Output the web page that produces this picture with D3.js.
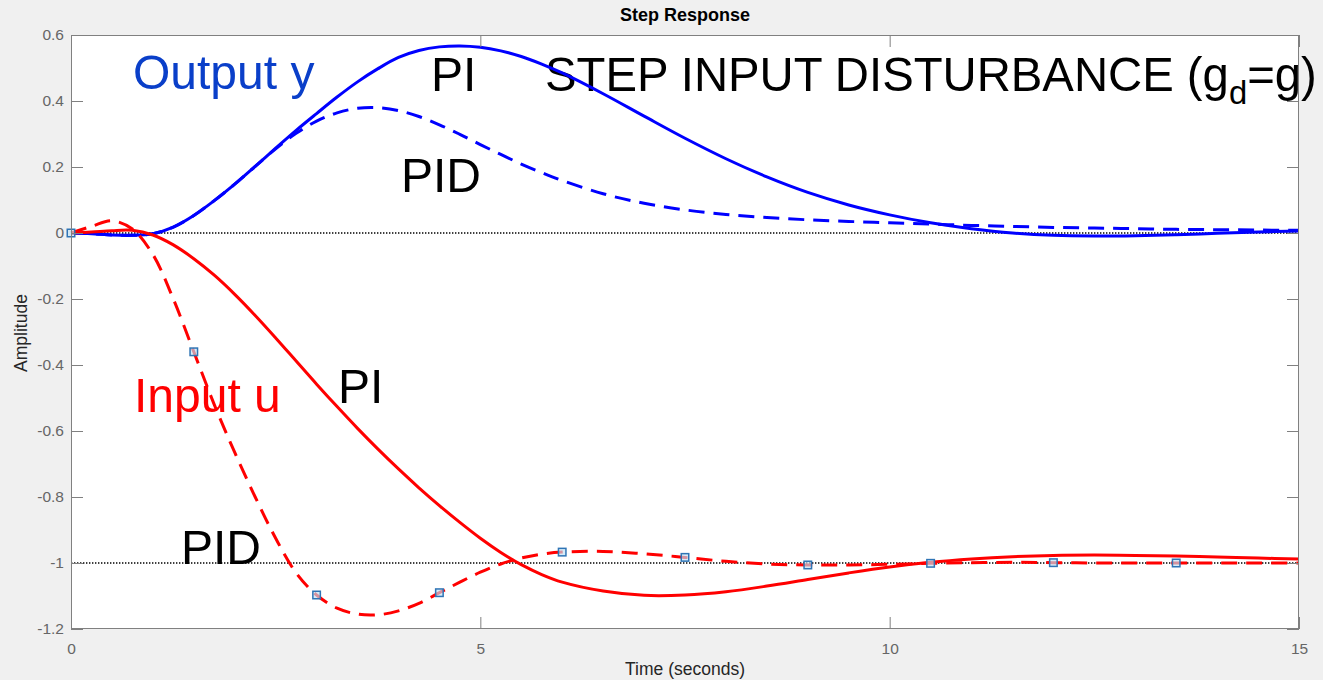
<!DOCTYPE html>
<html>
<head>
<meta charset="utf-8">
<script src="https://cdn.jsdelivr.net/npm/d3@7"></script>
<style>
  html, body { margin: 0; padding: 0; background: #f0f0f0; }
  svg { display: block; }
  text { font-family: "Liberation Sans", Arial, Helvetica, sans-serif; }
</style>
</head>
<body>
<svg id="chart" width="1323" height="680"></svg>
<script>
// Sample times (seconds) shared by all four responses
const timeS = [0, 0.25, 0.5, 0.75, 1, 1.25, 1.5, 1.75, 2, 2.25, 2.5, 2.75, 3, 3.25, 3.5, 3.75,
  4, 4.25, 4.5, 4.75, 5, 5.25, 5.5, 5.75, 6, 6.5, 7, 7.5, 8, 8.5, 9, 9.5, 10, 10.5, 11, 11.5,
  12, 12.5, 13, 13.5, 14, 14.5, 15];

// Output y, PI controller (solid blue)
const outputPI = [0, -0.002, -0.006, -0.007, -0.002, 0.018, 0.053, 0.098, 0.148, 0.202, 0.257, 0.311,
  0.362, 0.412, 0.458, 0.498, 0.532, 0.553, 0.564, 0.567, 0.563, 0.552, 0.535, 0.512, 0.485, 0.422,
  0.354, 0.287, 0.225, 0.17, 0.123, 0.085, 0.055, 0.031, 0.013, 0.0, -0.007, -0.009, -0.008,
  -0.005, -0.001, 0.003, 0.006];

// Output y, PID controller (dashed blue)
const outputPID = [0, -0.002, -0.006, -0.007, -0.002, 0.018, 0.053, 0.098, 0.148, 0.202, 0.255, 0.302,
  0.339, 0.364, 0.378, 0.38, 0.371, 0.353, 0.328, 0.299, 0.268, 0.238, 0.209, 0.183, 0.159, 0.119,
  0.09, 0.07, 0.056, 0.047, 0.04, 0.035, 0.031, 0.027, 0.023, 0.02, 0.017, 0.015, 0.013,
  0.011, 0.01, 0.009, 0.008];

// Input u, PI controller (solid red)
const inputPI = [0, 0.003, 0.007, 0.008, -0.006, -0.036, -0.078, -0.128, -0.186, -0.25, -0.318, -0.388,
  -0.458, -0.526, -0.592, -0.655, -0.715, -0.772, -0.826, -0.877, -0.925, -0.968, -1.005, -1.035,
  -1.058, -1.085, -1.098, -1.097, -1.087, -1.07, -1.05, -1.03, -1.012, -0.998, -0.988, -0.981,
  -0.977, -0.976, -0.977, -0.979, -0.982, -0.985, -0.988];

// Input u, PID controller (dashed red)
const inputPID = [0, 0.02, 0.037, 0.012, -0.065, -0.2, -0.36, -0.52, -0.665, -0.8, -0.925, -1.03,
  -1.097, -1.137, -1.155, -1.157, -1.145, -1.122, -1.09, -1.058, -1.028, -1.003, -0.985, -0.973,
  -0.967, -0.965, -0.972, -0.983, -0.995, -1.003, -1.006, -1.006, -1.004, -1.001, -0.999,
  -0.998, -0.999, -1.0, -1.0, -1.0, -1.0, -1.0, -1.0];

// Sample instants highlighted with square markers on the PID input
const markerTimes = [0, 1.5, 3, 4.5, 6, 7.5, 9, 10.5, 12, 13.5];

// Dotted reference levels
const refLevels = [0, -1];

// Axis ticks
const xTicks = [0, 5, 10, 15];
const xTickLabels = ["0", "5", "10", "15"];
const yTicks = [0.6, 0.4, 0.2, 0, -0.2, -0.4, -0.6, -0.8, -1, -1.2];
const yTickLabels = ["0.6", "0.4", "0.2", "0", "-0.2", "-0.4", "-0.6", "-0.8", "-1", "-1.2"];

// Annotations
const annotations = [
  { text: "Output y", x: 133, y: 89, color: "#0a3fc9" },
  { text: "PI", x: 431, y: 91, color: "#000" },
  { text: "PID", x: 401, y: 192, color: "#000" },
  { text: "Input u", x: 134, y: 412, color: "#ff0000" },
  { text: "PI", x: 338, y: 403, color: "#000" },
  { text: "PID", x: 181, y: 564, color: "#000" }
];

const W = 1323, H = 680;
const plot = { left: 71, right: 1299, top: 35, bottom: 629 };

const svg = d3.select("#chart");
svg.append("rect").attr("width", W).attr("height", H).attr("fill", "#f0f0f0");

const x = d3.scaleLinear().domain([0, 15]).range([plot.left, plot.right]);
const y = d3.scaleLinear().domain([-1.2, 0.6]).range([plot.bottom, plot.top]);

// Plot area
svg.append("rect")
  .attr("x", plot.left).attr("y", plot.top)
  .attr("width", plot.right - plot.left).attr("height", plot.bottom - plot.top)
  .attr("fill", "#fff");

// Reference lines
svg.append("g").selectAll("line").data(refLevels).join("line")
  .attr("x1", plot.left).attr("x2", plot.right)
  .attr("y1", d => y(d)).attr("y2", d => y(d))
  .attr("stroke", "#000").attr("stroke-width", 1.3)
  .attr("stroke-dasharray", "1.4,1.6");

// Annotation labels
const ann = svg.append("g").attr("font-size", 49);
ann.selectAll("text").data(annotations).join("text")
  .attr("x", d => d.x).attr("y", d => d.y)
  .attr("fill", d => d.color)
  .attr("transform", d => `translate(${d.x},0) scale(0.98,1) translate(${-d.x},0)`)
  .text(d => d.text);

const stepText = ann.append("text")
  .attr("transform", "translate(545,91) scale(0.965,1)")
  .attr("fill", "#000");
stepText.append("tspan").text("STEP INPUT DISTURBANCE (g");
stepText.append("tspan").attr("font-size", 34).attr("dy", 13).text("d");
stepText.append("tspan").attr("dy", -13).text("=g)");

// Curves
const line = vals => d3.line()
  .x((d, i) => x(timeS[i]))
  .y(d => y(d))
  .curve(d3.curveCatmullRom.alpha(0.5))(vals);

const series = [
  { vals: outputPI, color: "#0000ff", dash: null },
  { vals: outputPID, color: "#0000ff", dash: "16,9" },
  { vals: inputPI, color: "#ff0000", dash: null },
  { vals: inputPID, color: "#ff0000", dash: "16,9" }
];
svg.append("g").selectAll("path").data(series).join("path")
  .attr("d", d => line(d.vals))
  .attr("fill", "none")
  .attr("stroke", d => d.color)
  .attr("stroke-width", 3)
  .attr("stroke-dasharray", d => d.dash);

// Square markers on the PID input
const ms = 7.5;
svg.append("g").selectAll("rect").data(markerTimes).join("rect")
  .attr("x", t => x(t) - ms / 2)
  .attr("y", t => y(inputPID[timeS.indexOf(t)]) - ms / 2)
  .attr("width", ms).attr("height", ms)
  .attr("fill", "rgba(190,226,246,0.65)")
  .attr("stroke", "#2f74b5").attr("stroke-width", 1.5);

// Axes with inward ticks
const tickColor = "#808080";
const labelColor = "#666";
const styleAxis = g => {
  g.select(".domain").remove();
  g.selectAll(".tick line").attr("stroke", tickColor);
  g.selectAll(".tick text").attr("fill", labelColor)
    .attr("font-size", 15.5)
    .attr("font-family", "'Liberation Sans', Arial, Helvetica, sans-serif");
};

svg.append("g").attr("transform", `translate(${plot.left},0)`)
  .call(d3.axisLeft(y).tickValues(yTicks).tickSize(-12).tickPadding(7)
    .tickFormat((d, i) => yTickLabels[i]))
  .call(styleAxis);

svg.append("g").attr("transform", `translate(${plot.right},0)`)
  .call(d3.axisRight(y).tickValues(yTicks).tickSize(-12).tickFormat(""))
  .call(styleAxis);

svg.append("g").attr("transform", `translate(0,${plot.bottom})`)
  .call(d3.axisBottom(x).tickValues(xTicks).tickSize(-12).tickPadding(14)
    .tickFormat((d, i) => xTickLabels[i]))
  .call(styleAxis);

svg.append("g").attr("transform", `translate(0,${plot.top})`)
  .call(d3.axisTop(x).tickValues(xTicks).tickSize(-12).tickFormat(""))
  .call(styleAxis);

// Plot box
svg.append("rect")
  .attr("x", plot.left + 0.5).attr("y", plot.top + 0.5)
  .attr("width", plot.right - plot.left - 1).attr("height", plot.bottom - plot.top - 1)
  .attr("fill", "none").attr("stroke", tickColor).attr("stroke-width", 1);

// Title and axis labels
svg.append("text")
  .attr("x", 685).attr("y", 21)
  .attr("text-anchor", "middle")
  .attr("font-size", 18).attr("font-weight", "bold").attr("fill", "#000")
  .text("Step Response");

svg.append("text")
  .attr("x", 685).attr("y", 675)
  .attr("text-anchor", "middle")
  .attr("font-size", 17.5).attr("fill", "#262626")
  .text("Time (seconds)");

svg.append("text")
  .attr("transform", "translate(27,333) rotate(-90)")
  .attr("text-anchor", "middle")
  .attr("font-size", 17.5).attr("fill", "#262626")
  .text("Amplitude");
</script>
</body>
</html>
